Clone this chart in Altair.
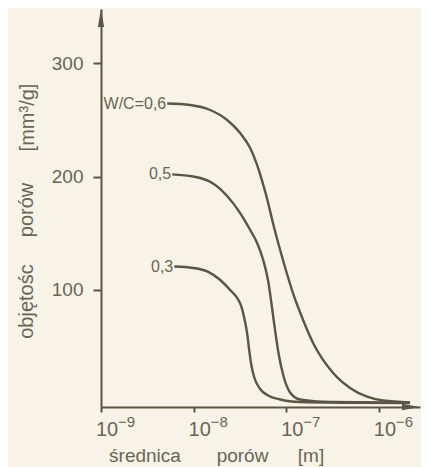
import altair as alt
import pandas as pd

# ---- data ----
series = ["0,6", "0,5", "0,3"]
labels = ["W/C=0,6", "0,5", "0,3"]

# pore diameter [m] and cumulative pore volume [mm3/g]
d_06 = [5.19e-9, 9.19e-9, 1.51e-8, 2.30e-8, 3.18e-8, 4.08e-8, 4.85e-8, 5.50e-8, 6.22e-8,
        7.23e-8, 8.59e-8, 1.02e-7, 1.19e-7, 1.52e-7, 1.95e-7, 3.21e-7, 4.89e-7, 7.46e-7,
        1.11e-6, 2.17e-6]
v_06 = [264.3, 263.0, 258.6, 249.8, 238.3, 225.1, 210.1, 196.0, 180.2,
        158.1, 135.2, 114.1, 96.5, 73.6, 53.3, 26.9, 13.7, 6.0,
        2.6, 0.9]

d_05 = [5.87e-9, 9.90e-9, 1.59e-8, 2.30e-8, 3.18e-8, 4.08e-8, 4.85e-8, 5.64e-8, 6.38e-8,
        6.96e-8, 7.59e-8, 8.28e-8, 9.27e-8, 1.10e-7, 1.41e-7, 2.98e-7, 2.17e-6]
v_05 = [201.9, 200.0, 194.3, 182.8, 167.8, 152.9, 141.4, 126.4, 107.9,
        86.8, 63.9, 43.6, 25.1, 9.7, 3.5, 1.3, 0.7]

d_03 = [6.18e-9, 9.90e-9, 1.44e-8, 1.94e-8, 2.48e-8, 2.95e-8, 3.26e-8, 3.56e-8, 3.79e-8,
        3.98e-8, 4.18e-8, 4.50e-8, 5.23e-8, 6.38e-8, 8.59e-8, 1.41e-7, 3.81e-7, 2.17e-6]
v_03 = [120.7, 119.4, 115.9, 108.8, 100.0, 93.0, 85.9, 73.6, 61.2,
        47.1, 34.8, 23.3, 12.8, 7.0, 3.5, 1.3, 0.7, 0.4]

x_ticks = [1e-9, 1e-8, 1e-7, 1e-6]
x_tick_base = ["10", "10", "10", "10"]
x_tick_exp = ["\u22129", "\u22128", "\u22127", "\u22126"]
y_ticks = [100, 200, 300]

# ---- tables ----
rows = []
for s, ds, vs in zip(series, [d_06, d_05, d_03], [v_06, v_05, v_03]):
    for i, (d, v) in enumerate(zip(ds, vs)):
        rows.append({"wc": s, "i": i, "d": d, "v": v})
df = pd.DataFrame(rows)

start = pd.DataFrame({
    "wc": series,
    "label": labels,
    "d": [d_06[0], d_05[0], d_03[0]],
    "v": [v_06[0], v_05[0], v_03[0]],
})
ticks = pd.DataFrame({"t": x_ticks, "base": x_tick_base, "exp": x_tick_exp})

INK = "#5a5545"
TXT = "#6a6556"
BG = "#f7f3e6"
W, H = 319, 398

xs = alt.Scale(type="log", domain=[1e-9, 2.78e-6], nice=False)
ys = alt.Scale(domain=[-3.1, 347.6], nice=False, zero=False)

x_enc = alt.X("d:Q", scale=xs,
              axis=alt.Axis(values=x_ticks, labels=False, title=None, grid=False,
                            tickSize=5, tickWidth=2, tickColor=INK,
                            domainColor=INK, domainWidth=2))
y_enc = alt.Y("v:Q", scale=ys,
              axis=alt.Axis(values=y_ticks, title=None, grid=False,
                            tickSize=8, tickWidth=2, tickColor=INK,
                            domainColor=INK, domainWidth=2,
                            labelFont="Liberation Sans", labelFontSize=19,
                            labelColor=TXT, labelPadding=10))

lines = alt.Chart(df).mark_line(interpolate="monotone", strokeWidth=2.4, color=INK).encode(
    x=x_enc, y=y_enc, detail="wc:N", order="i:Q")

curve_labels = alt.Chart(start).mark_text(
    align="right", baseline="middle", dx=-1, font="Liberation Sans",
    fontSize=16, color=TXT).encode(
    x=alt.X("d:Q", scale=xs), y=alt.Y("v:Q", scale=ys), text="label:N")

tick_base = alt.Chart(ticks).mark_text(
    align="left", baseline="alphabetic", dx=-5, font="Liberation Sans",
    fontSize=20, color=TXT).encode(
    x=alt.X("t:Q", scale=xs), y=alt.value(427), text="base:N")

tick_exp = alt.Chart(ticks).mark_text(
    align="left", baseline="alphabetic", dx=17, font="Liberation Sans",
    fontSize=15, color=TXT).encode(
    x=alt.X("t:Q", scale=xs), y=alt.value(418), text="exp:N")

one = alt.Data(values=[{}])

def word(text, x, y, angle=0, size=19):
    return alt.Chart(one).mark_text(
        align="center", baseline="middle", angle=angle, font="Liberation Sans",
        fontSize=size, color=TXT).encode(
        x=alt.value(x), y=alt.value(y), text=alt.value(text))

x_title = [word("średnica", 44, 447), word("porów", 141.5, 447), word("[m]", 210, 447)]
y_title = [word("objętośc", -74, 292.5, 270, 20), word("porów", -74, 201, 270, 20),
           word("[mm³/g]", -73, 108.5, 270, 20)]

arrow_up = alt.Chart(one).mark_point(
    shape="M0,-1L0.35,1L-0.35,1Z", size=324, filled=True, opacity=1,
    color=INK, strokeWidth=0).encode(x=alt.value(0), y=alt.value(9))
arrow_right = alt.Chart(one).mark_point(
    shape="M1,0L-1,0.35L-1,-0.35Z", size=324, filled=True, opacity=1,
    color=INK, strokeWidth=0).encode(x=alt.value(W - 9), y=alt.value(H))

chart = alt.layer(
    lines, curve_labels, tick_base, tick_exp, arrow_up, arrow_right, *x_title, *y_title
).properties(
    width=W, height=H,
    padding={"left": 93, "top": 1, "right": 1, "bottom": 60},
    autosize=alt.AutoSizeParams(type="none"),
    background=BG,
).configure_view(stroke=None)

chart.save("out.html", embed_options={"renderer": "svg", "actions": False})
